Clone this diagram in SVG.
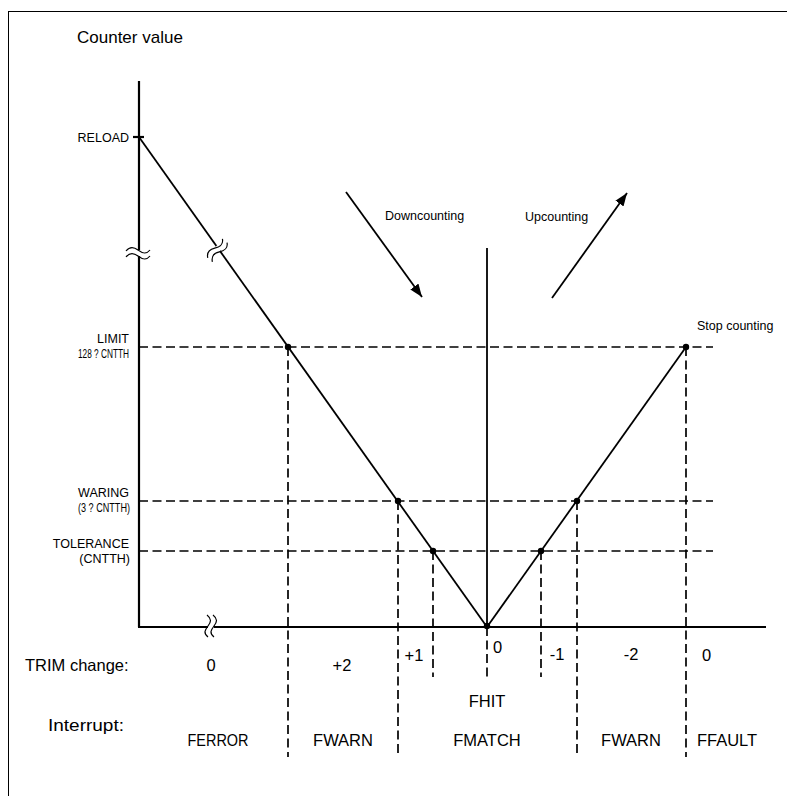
<svg xmlns="http://www.w3.org/2000/svg" width="787" height="796" viewBox="0 0 787 796">
<defs>
<marker id="ah" markerUnits="userSpaceOnUse" markerWidth="14" markerHeight="10" refX="13" refY="5" orient="auto">
<path d="M0,0 L13,5 L0,10 Z" fill="#000"/>
</marker>
<style>
.ax{stroke:#000;stroke-width:2.2;fill:none}
.ln{stroke:#000;stroke-width:1.8;fill:none}
.dash{stroke:#000;stroke-width:1.7;stroke-dasharray:9 4.5;fill:none}
.wv{stroke:#000;stroke-width:1.2;fill:none}
.gap{fill:#fff;stroke:none}
.t{font-family:"Liberation Sans",Arial,Helvetica,sans-serif;fill:#000}
.big{font-size:16.5px}
.sm{font-size:12.5px}
.e{text-anchor:end}
.m{text-anchor:middle}
</style>
</defs>
<rect x="0" y="0" width="787" height="796" fill="#fff"/>
<rect x="8.5" y="11.5" width="800" height="800" fill="none" stroke="#000" stroke-width="1"/>

<g id="guides">
<line class="dash" x1="139" y1="347" x2="713" y2="347"/>
<line class="dash" x1="139" y1="501" x2="713" y2="501"/>
<line class="dash" x1="139" y1="551" x2="713" y2="551"/>
<line class="dash" x1="288" y1="347" x2="288" y2="757"/>
<line class="dash" x1="398" y1="501" x2="398" y2="757"/>
<line class="dash" x1="433" y1="551" x2="433" y2="677"/>
<line class="dash" x1="487" y1="627" x2="487" y2="677"/>
<line class="dash" x1="541" y1="551" x2="541" y2="677"/>
<line class="dash" x1="577" y1="501" x2="577" y2="757"/>
<line class="dash" x1="686" y1="347" x2="686" y2="757"/>
</g>

<g id="axes">
<line class="ax" x1="139" y1="81" x2="139" y2="627"/>
<line class="ax" x1="138" y1="627" x2="766" y2="627"/>
<line class="ax" x1="133" y1="137" x2="144" y2="137"/>
<line class="ln" x1="487" y1="248" x2="487" y2="627"/>
</g>

<g id="curve">
<line class="ln" x1="139" y1="137" x2="487" y2="627"/>
<line class="ln" x1="487" y1="627" x2="686" y2="347"/>
</g>

<g id="breaks">
<g transform="translate(138,253)">
<rect class="gap" x="-4" y="-3" width="8" height="6"/>
<path class="wv" d="M-12,-2 C-8,-7 -4,-6 0,-3 S8,2 12,-3"/>
<path class="wv" d="M-12,4 C-8,-1 -4,0 0,3 S8,8 12,3"/>
</g>
<g transform="translate(217,250) rotate(-50)">
<rect class="gap" x="-4" y="-3" width="8" height="6"/>
<path class="wv" d="M-12,-2 C-8,-7 -4,-6 0,-3 S8,2 12,-3"/>
<path class="wv" d="M-12,4 C-8,-1 -4,0 0,3 S8,8 12,3"/>
</g>
<g transform="translate(211,626) rotate(90)">
<rect class="gap" x="-4" y="-3" width="8" height="6"/>
<path class="wv" d="M-11,-2 C-7,-7 -4,-6 0,-3 S7,2 11,-3"/>
<path class="wv" d="M-11,4 C-7,-1 -4,0 0,3 S7,8 11,3"/>
</g>
</g>

<g id="points" fill="#000">
<circle cx="288" cy="347" r="3.2"/>
<circle cx="398" cy="501" r="3.2"/>
<circle cx="433" cy="551" r="3.2"/>
<circle cx="487" cy="626" r="3.2"/>
<circle cx="541" cy="551" r="3.2"/>
<circle cx="577" cy="501" r="3.2"/>
<circle cx="686" cy="347" r="3.2"/>
</g>

<g id="arrows">
<line class="ln" x1="346" y1="192" x2="422" y2="297" marker-end="url(#ah)"/>
<line class="ln" x1="552" y1="298" x2="627" y2="193" marker-end="url(#ah)"/>
</g>

<g id="labels" class="t">
<text class="t" x="77" y="43" font-size="17">Counter value</text>
<text class="sm e" x="129" y="142">RELOAD</text>
<text class="sm e" x="129" y="343">LIMIT</text>
<text class="sm e" x="129" y="358" textLength="51" lengthAdjust="spacingAndGlyphs">128 ? CNTTH</text>
<text class="sm e" x="129" y="497">WARING</text>
<text class="sm e" x="130" y="512" textLength="52" lengthAdjust="spacingAndGlyphs">(3 ? CNTTH)</text>
<text class="sm e" x="129" y="547.5">TOLERANCE</text>
<text class="sm e" x="130" y="563">(CNTTH)</text>
<text class="sm" x="385" y="220">Downcounting</text>
<text class="sm" x="525" y="221">Upcounting</text>
<text class="sm" x="697" y="330">Stop counting</text>
<text class="big" x="25" y="671">TRIM change:</text>
<text class="big m" x="211" y="671">0</text>
<text class="big m" x="342" y="671">+2</text>
<text class="big m" x="414" y="661">+1</text>
<text class="big" x="493" y="653">0</text>
<text class="big m" x="557" y="660">-1</text>
<text class="big m" x="631" y="660">-2</text>
<text class="big" x="702" y="661">0</text>
<text class="big m" x="487" y="707">FHIT</text>
<text class="big" x="48" y="731" textLength="76" lengthAdjust="spacingAndGlyphs">Interrupt:</text>
<text class="big m" x="218" y="746" textLength="61" lengthAdjust="spacingAndGlyphs">FERROR</text>
<text class="big m" x="343" y="746">FWARN</text>
<text class="big m" x="487" y="746">FMATCH</text>
<text class="big m" x="631" y="746">FWARN</text>
<text class="big m" x="727" y="746">FFAULT</text>
</g>
</svg>
